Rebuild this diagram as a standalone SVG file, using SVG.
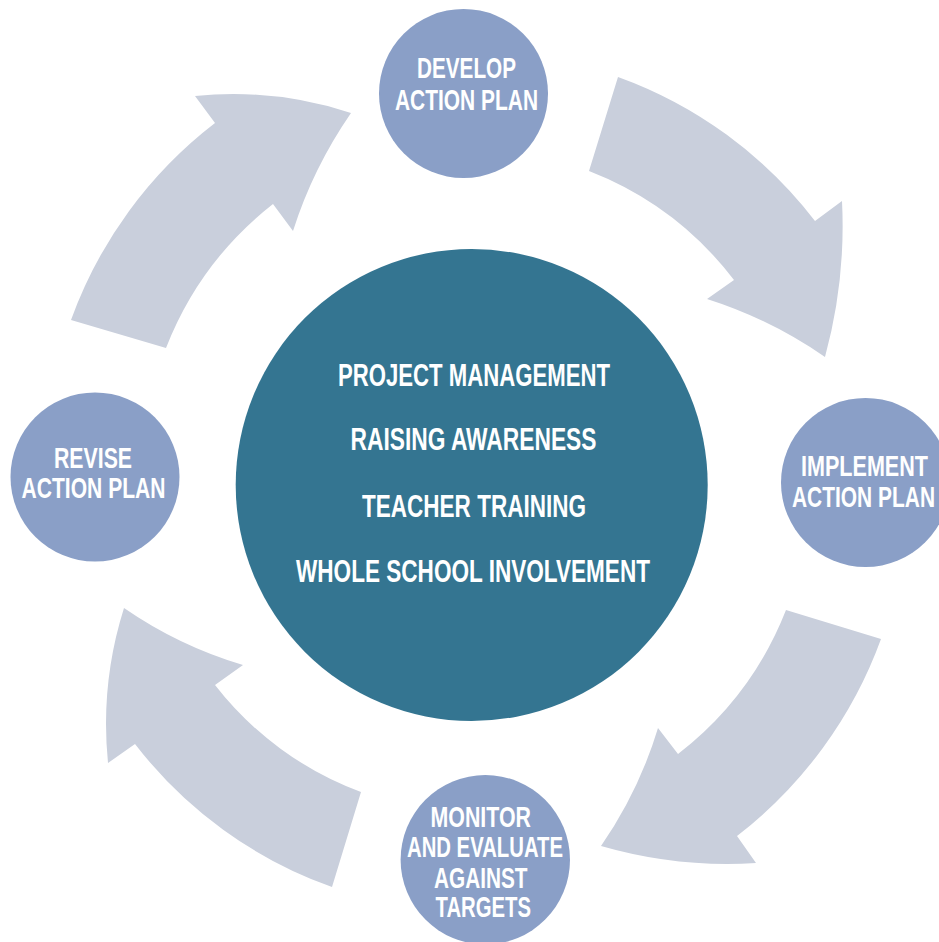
<svg xmlns="http://www.w3.org/2000/svg" width="939" height="942" viewBox="0 0 939 942">
<style>
.arrow{fill:#c9cfdc;stroke:none}
.node{fill:#8a9fc7}
.core{fill:#347591}
.lbl{font-family:"Liberation Sans",Arial,sans-serif;font-weight:bold;fill:#ffffff;font-size:30px}
.clbl{font-family:"Liberation Sans",Arial,sans-serif;font-weight:bold;fill:#ffffff;font-size:32px}
</style>
<rect x="0" y="0" width="939" height="942" fill="#ffffff"/>
<g id="connectors">
<path class="arrow" d="M 618 77 A 434 434 0 0 1 815 221 L 842 201 Q 846 280 825 357 Q 770 319 707 299 L 734 280 A 335 335 0 0 0 589 171 Z"/>
<path class="arrow" d="M 881 639 A 438 438 0 0 1 737 836 L 756 863 Q 677 868 601 846 Q 639 791 658 728 L 678 754 A 338 338 0 0 0 786 610 Z"/>
<path class="arrow" d="M 332 887 A 430 430 0 0 1 135 744 L 108 763 Q 100 684 124 608 Q 179 646 243 665 L 215 685 A 330 330 0 0 0 361 792 Z"/>
<path class="arrow" d="M 71 320 A 435 435 0 0 1 215 123 L 195 96 Q 275 88 351 113 Q 313 168 293 231 L 273 204 A 340 340 0 0 0 166 348 Z"/>
</g>
<g id="center">
<circle class="core" cx="471.7" cy="485" r="236"/>
<text class="clbl" x="338" y="386" textLength="272" lengthAdjust="spacingAndGlyphs">PROJECT MANAGEMENT</text>
<text class="clbl" x="350.5" y="450" textLength="246" lengthAdjust="spacingAndGlyphs">RAISING AWARENESS</text>
<text class="clbl" x="362" y="517" textLength="224" lengthAdjust="spacingAndGlyphs">TEACHER TRAINING</text>
<text class="clbl" x="296" y="582" textLength="354" lengthAdjust="spacingAndGlyphs">WHOLE SCHOOL INVOLVEMENT</text>
</g>
<g id="develop">
<circle class="node" cx="463.5" cy="93.5" r="84.5"/>
<text class="lbl" x="417" y="78" textLength="99" lengthAdjust="spacingAndGlyphs">DEVELOP</text>
<text class="lbl" x="395" y="110" textLength="143" lengthAdjust="spacingAndGlyphs">ACTION PLAN</text>
</g>
<g id="implement">
<circle class="node" cx="865.5" cy="482.5" r="84.5"/>
<text class="lbl" x="801" y="476" textLength="127" lengthAdjust="spacingAndGlyphs">IMPLEMENT</text>
<text class="lbl" x="792" y="507" textLength="143" lengthAdjust="spacingAndGlyphs">ACTION PLAN</text>
</g>
<g id="monitor">
<circle class="node" cx="485.3" cy="859.7" r="84.7"/>
<text class="lbl" x="430.5" y="827" textLength="100.5" lengthAdjust="spacingAndGlyphs">MONITOR</text>
<text class="lbl" x="407" y="857" textLength="156" lengthAdjust="spacingAndGlyphs">AND EVALUATE</text>
<text class="lbl" x="434" y="888" textLength="93.5" lengthAdjust="spacingAndGlyphs">AGAINST</text>
<text class="lbl" x="435.5" y="917" textLength="95.5" lengthAdjust="spacingAndGlyphs">TARGETS</text>
</g>
<g id="revise">
<circle class="node" cx="95" cy="477" r="84.5"/>
<text class="lbl" x="54" y="468" textLength="78" lengthAdjust="spacingAndGlyphs">REVISE</text>
<text class="lbl" x="21.5" y="498" textLength="144" lengthAdjust="spacingAndGlyphs">ACTION PLAN</text>
</g>
</svg>
